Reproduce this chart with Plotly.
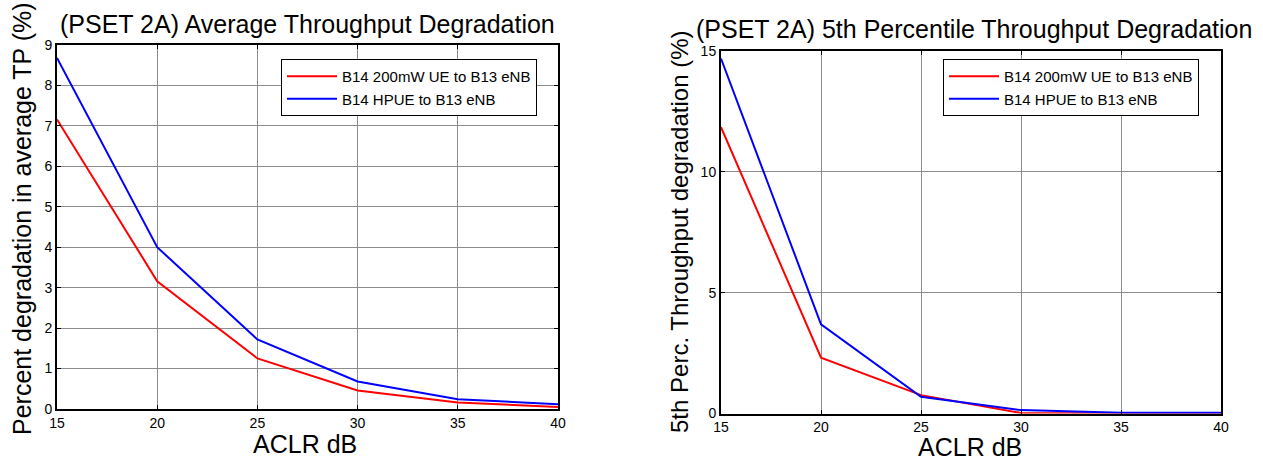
import plotly.graph_objects as go

aclr = [15, 20, 25, 30, 35, 40]
avg_200mw = [7.16, 3.16, 1.25, 0.46, 0.16, 0.05]
avg_hpue = [8.68, 4.0, 1.72, 0.68, 0.24, 0.12]
p5_200mw = [11.85, 2.31, 0.76, 0.02, 0.0, 0.0]
p5_hpue = [14.69, 3.69, 0.69, 0.14, 0.03, 0.03]
name_200mw = "B14 200mW UE to B13 eNB"
name_hpue = "B14 HPUE to B13 eNB"

W, H = 1263, 461
FONT = "Liberation Sans, Arial, sans-serif"

def px_x(p):
    return p / W

def px_y(p):
    return (H - p) / H

fig = go.Figure()
fig.add_trace(go.Scatter(x=aclr, y=avg_200mw, mode="lines", name=name_200mw,
                         line=dict(color="#FF0000", width=2), xaxis="x", yaxis="y", legend="legend"))
fig.add_trace(go.Scatter(x=aclr, y=avg_hpue, mode="lines", name=name_hpue,
                         line=dict(color="#0000FF", width=2), xaxis="x", yaxis="y", legend="legend"))
fig.add_trace(go.Scatter(x=aclr, y=p5_200mw, mode="lines", name=name_200mw,
                         line=dict(color="#FF0000", width=2), xaxis="x2", yaxis="y2", legend="legend2"))
fig.add_trace(go.Scatter(x=aclr, y=p5_hpue, mode="lines", name=name_hpue,
                         line=dict(color="#0000FF", width=2), xaxis="x2", yaxis="y2", legend="legend2"))

axis_common = dict(showline=True, linecolor="black", linewidth=2, mirror="allticks",
                   ticks="inside", ticklen=4, tickcolor="black", showgrid=True,
                   gridcolor="#8c8c8c", gridwidth=1, zeroline=False, automargin=False,
                   tickfont=dict(family=FONT, size=14, color="black"))

legend_common = dict(xanchor="left", yanchor="top", bgcolor="white", bordercolor="black",
                     borderwidth=1, itemwidth=50, tracegroupgap=0,
                     font=dict(family=FONT, size=15, color="black"))

fig.update_layout(
    width=W, height=H,
    margin=dict(l=0, r=0, t=0, b=0, pad=0, autoexpand=False),
    paper_bgcolor="white", plot_bgcolor="white",
    font=dict(family=FONT, color="black"),
    xaxis=dict(domain=[px_x(57), px_x(558)], range=[15, 40], tickvals=[15, 20, 25, 30, 35, 40],
               anchor="y", **axis_common),
    yaxis=dict(domain=[px_y(409), px_y(45)], range=[0, 9], tickvals=list(range(10)),
               anchor="x", **axis_common),
    xaxis2=dict(domain=[px_x(721), px_x(1221)], range=[15, 40], tickvals=[15, 20, 25, 30, 35, 40],
                anchor="y2", **axis_common),
    yaxis2=dict(domain=[px_y(413.5), px_y(51)], range=[0, 15], tickvals=[0, 5, 10, 15],
                anchor="x2", **axis_common),
    legend=dict(x=px_x(281), y=px_y(59), **legend_common),
    legend2=dict(x=px_x(943), y=px_y(59), **legend_common),
    showlegend=True,
)

ann = [
    dict(text="(PSET 2A) Average Throughput Degradation", x=307.5, y=24, size=25, angle=0),
    dict(text="(PSET 2A) 5th Percentile Throughput Degradation", x=973.5, y=29, size=25, angle=0),
    dict(text="Percent degradation in average TP (%)", x=22, y=219, size=25, angle=-90),
    dict(text="5th Perc. Throughput degradation (%)", x=680, y=232, size=24, angle=-90),
    dict(text="ACLR dB", x=305, y=444, size=25, angle=0),
    dict(text="ACLR dB", x=970, y=447, size=25, angle=0),
]
for a in ann:
    fig.add_annotation(text=a["text"], x=px_x(a["x"]), y=px_y(a["y"]), xref="paper", yref="paper",
                       xanchor="center", yanchor="middle", showarrow=False, textangle=a["angle"],
                       font=dict(family=FONT, size=a["size"], color="black"))

fig.write_html("out.html")
